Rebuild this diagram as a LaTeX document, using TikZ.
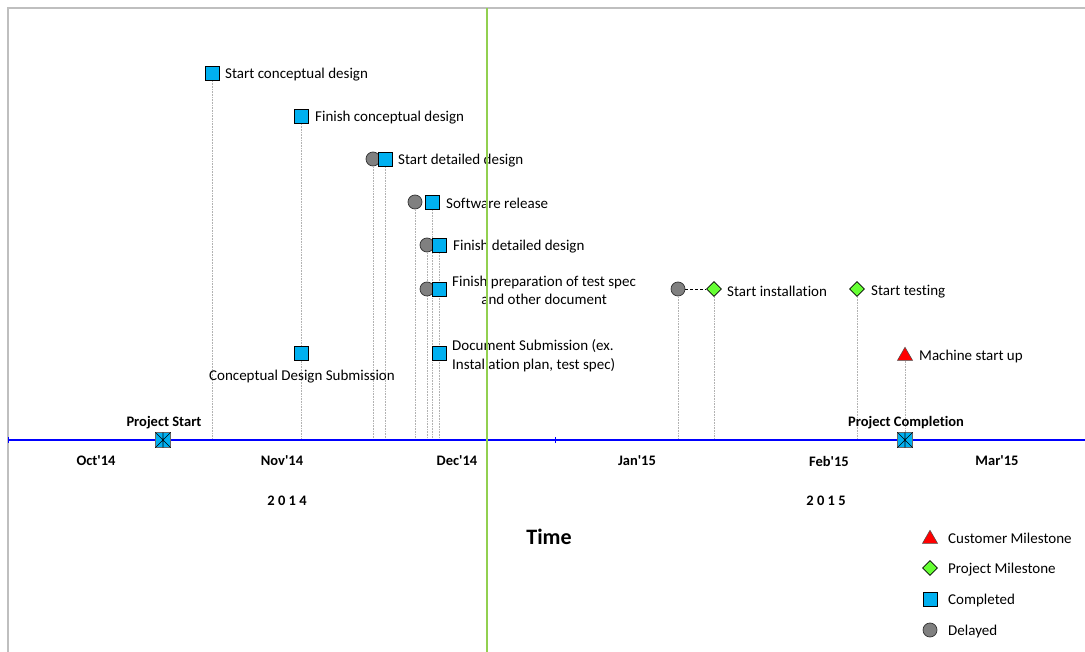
\documentclass[tikz,border=0pt]{standalone}
\usepackage{fontspec}
\setmainfont{Carlito}[Ligatures=NoCommon]
\usetikzlibrary{shapes.geometric,backgrounds}
\definecolor{doneblue}{HTML}{00B0F0}
\definecolor{lategray}{HTML}{808080}
\definecolor{milegreen}{HTML}{66FF33}
\definecolor{todaygreen}{HTML}{92D050}
\definecolor{framegray}{HTML}{BFBFBF}
\newcommand{\apos}{\textquotesingle}
\begin{document}
\begin{tikzpicture}[x=1pt,y=-1pt,
  done/.style={rectangle,draw=black,fill=doneblue,minimum size=14pt,inner sep=0pt,line width=0.7pt},
  late/.style={circle,draw=black!80,fill=lategray,minimum size=14pt,inner sep=0pt,line width=0.7pt},
  pmile/.style={diamond,draw=black,fill=milegreen,minimum size=15pt,inner sep=0pt,line width=0.7pt},
  cmile/.style={regular polygon,regular polygon sides=3,draw=black!70,fill=red,minimum size=17.5pt,inner sep=0pt,line width=0.5pt},
  ends/.style={rectangle,draw=black!60,fill=doneblue,minimum size=15pt,inner sep=0pt,line width=0.4pt},
  stem/.style={draw=black!30,densely dotted,line width=0.6pt},
  lbl/.style={font=\fontsize{15}{18}\selectfont,anchor=west,inner sep=0pt,yshift=-1.5pt},
  blbl/.style={font=\fontsize{14.5}{18}\bfseries\selectfont,inner sep=0pt},
]
\useasboundingbox (0,0) rectangle (1085,652);

% frame
\draw[framegray,line width=1.6pt] (8,652) -- (8,8) -- (1085,8);

% time axis
\coordinate (axL) at (8,440);
\coordinate (axR) at (1085,440);
\coordinate (axM) at (555,440);
\draw[blue,line width=1.3pt] (axL) -- (axR);
\draw[blue,line width=1pt] ([yshift=-3pt]axL) -- ([yshift=3pt]axL);
\draw[blue,line width=1pt] ([yshift=-3pt]axM) -- ([yshift=3pt]axM);

% months and years
\node[blbl] (oct) at (96,461) {Oct\apos14};
\node[blbl] (nov) at (282,461) {Nov\apos14};
\node[blbl] (dec) at (457,461) {Dec\apos14};
\node[blbl] (jan) at (637,461) {Jan\apos15};
\node[blbl] (feb) at (829,461) {Feb\apos15};
\node[blbl] (mar) at (997,461) {Mar\apos15};
\node[blbl] (y14) at (287,501) {2 0 1 4};
\node[blbl] (y15) at (826,501) {2 0 1 5};
\node[font=\fontsize{22}{26}\bfseries\selectfont,inner sep=0pt] (time) at (549,537) {Time};

% milestones
\node[done] (m1) at (212,73) {};
\node[lbl] (t1) at (225,73) {Start conceptual design};

\node[done] (m2) at (301,116) {};
\node[lbl] (t2) at (315,116) {Finish conceptual design};

\node[done] (m2b) at (301,353) {};
\node[lbl,anchor=center] (t2b) at (302,375) {Conceptual Design Submission};

\node[late] (d3) at (373,159) {};
\node[done] (m3) at (385,159) {};
\node[lbl] (t3) at (398,159) {Start detailed design};

\node[late] (d4) at (415,202) {};
\node[done] (m4) at (432,202) {};
\node[lbl] (t4) at (446,202) {Software release};

\node[late] (d5) at (427,245) {};
\node[done] (m5) at (439,245) {};
\node[lbl] (t5) at (453,245) {Finish detailed design};

\node[late] (d6) at (427,289) {};
\node[done] (m6) at (439,289) {};
\node[lbl,align=center] (t6) at (452,289) {Finish preparation of test spec\\and other document};

\node[done] (m7) at (439,353) {};
\node[lbl,align=left,font=\fontsize{15}{19}\selectfont] (t7) at (452,354.5) {Document Submission (ex.\\Installation plan, test spec)};

\node[late] (d8) at (678,289) {};
\node[pmile] (m8) at (714,289) {};
\node[lbl] (t8) at (727,290) {Start installation};

\node[pmile] (m9) at (857,289) {};
\node[lbl] (t9) at (871,290) {Start testing};

\node[cmile] (m10) at (905,356) {};
\node[lbl] (t10) at (919,355) {Machine start up};

% project start and completion
\node[ends] (ps) at (163,440) {};
\node[blbl,anchor=south] (tps) at (164,429) {Project Start};
\node[ends] (pc) at (905,440) {};
\node[blbl,anchor=south] (tpc) at (906,429) {Project Completion};
\draw[black,line width=0.6pt] (ps.north west) -- (ps.south east) (ps.south west) -- (ps.north east) (ps.north) -- (ps.south);
\draw[black,line width=0.6pt] (pc.north west) -- (pc.south east) (pc.south west) -- (pc.north east) (pc.north) -- (pc.south);

% stems down to the axis, behind the markers
\begin{scope}[on background layer]
\fill[white] (0,0) rectangle (1085,652);
\foreach \n in {m1,m2,d3,m3,d4,m4,d5,m5,d8,m8,m9,m10}
  \draw[stem] (\n.center) -- (\n.center |- axL);
\end{scope}
\draw[densely dashed,line width=0.6pt] (d8) -- (m8);

% today marker
\draw[todaygreen,line width=2.6pt] (487,8) -- (487,652);

% legend
\node[cmile] (lg1) at (930,539) {};
\node[lbl] (lt1) at (948,537) {Customer Milestone};
\node[pmile] (lg2) at (930,568) {};
\node[lbl] (lt2) at (948,568) {Project Milestone};
\node[done] (lg3) at (930,599) {};
\node[lbl] (lt3) at (948,599) {Completed};
\node[late] (lg4) at (930,630) {};
\node[lbl] (lt4) at (948,630) {Delayed};
\end{tikzpicture}
\end{document}
